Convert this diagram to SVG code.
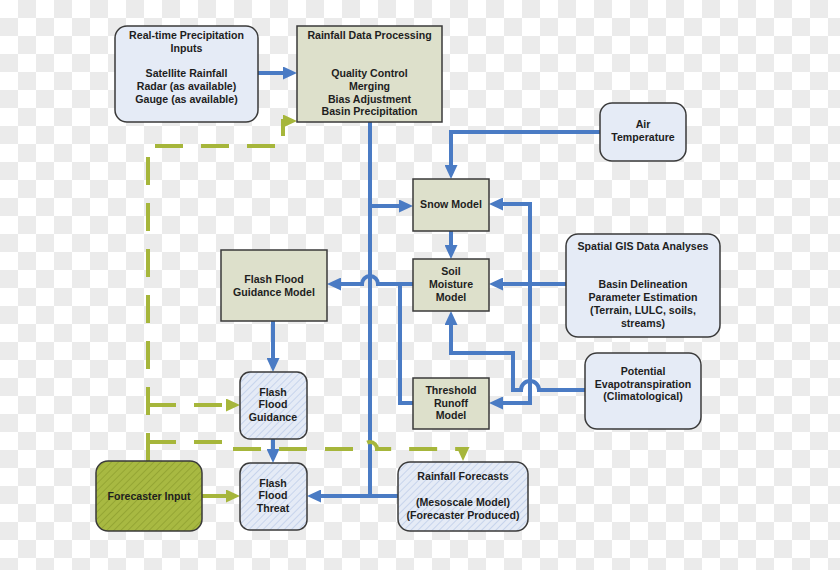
<svg xmlns="http://www.w3.org/2000/svg" width="840" height="570" viewBox="0 0 840 570">
<defs>
<pattern id="bg" width="36" height="36" patternUnits="userSpaceOnUse">
<rect width="36" height="36" fill="#ffffff"/>
<rect x="18" y="0" width="18" height="18" fill="#ebebeb"/>
<rect x="0" y="18" width="18" height="18" fill="#ebebeb"/>
</pattern>
<pattern id="hb" width="5" height="5" patternUnits="userSpaceOnUse" patternTransform="rotate(45)">
<rect width="5" height="5" fill="#e5ebf6"/>
<line x1="0" y1="0" x2="0" y2="5" stroke="#b3c5e6" stroke-width="1.2"/>
</pattern>
<pattern id="hg" width="5" height="5" patternUnits="userSpaceOnUse" patternTransform="rotate(45)">
<rect width="5" height="5" fill="#a8b942"/>
<line x1="0" y1="0" x2="0" y2="5" stroke="#8c9d2d" stroke-width="1.4"/>
</pattern>
<marker id="ab" viewBox="0 0 14 13" refX="4" refY="6.5" markerWidth="14" markerHeight="13" markerUnits="userSpaceOnUse" orient="auto">
<path d="M0,0 L14,6.5 L0,13 z" fill="#4a7bc4"/>
</marker>
<marker id="ag" viewBox="0 0 14 13" refX="4" refY="6.5" markerWidth="14" markerHeight="13" markerUnits="userSpaceOnUse" orient="auto">
<path d="M0,0 L14,6.5 L0,13 z" fill="#a6b63b"/>
</marker>
<style>
.t{font-family:"Liberation Sans",Arial,sans-serif;font-weight:bold;font-size:10.6px;fill:#1e1e1e;text-anchor:middle}
.lb{fill:#e5ebf6;stroke:#3a3a3a;stroke-width:1.5}
.gr{fill:#dde0cb;stroke:#3a3a3a;stroke-width:1.5}
.hb{fill:url(#hb);stroke:#3a3a3a;stroke-width:1.5}
.hg{fill:url(#hg);stroke:#3a3a3a;stroke-width:1.5}
.b{fill:none;stroke:#4a7bc4;stroke-width:4}
.ba{fill:none;stroke:#4a7bc4;stroke-width:4;marker-end:url(#ab)}
.g{fill:none;stroke:#a6b63b;stroke-width:4}
.ga{fill:none;stroke:#a6b63b;stroke-width:4;marker-end:url(#ag)}
.d{stroke-dasharray:28 18}
</style>
</defs>
<rect width="840" height="570" fill="url(#bg)"/>
<g id="connectors">
<path class="ba" d="M258,73 L287,73"/>
<path class="b" d="M370,122 L370,496"/>
<path class="ba" d="M370,206 L403,206"/>
<path class="ba" d="M398,496 L317,496"/>
<path class="ba" d="M600,132 L451,132 L451,169"/>
<path class="ba" d="M451,231 L451,249"/>
<path class="ba" d="M413,284 L378,284 A8,8 0 0 0 362,284 L337,284"/>
<path class="b" d="M413,403 L400,403 L400,284"/>
<path class="ba" d="M566,284 L499,284"/>
<path class="ba" d="M530,284 L530,204 L499,204"/>
<path class="ba" d="M530,284 L530,403 L499,403"/>
<path class="ba" d="M585,390 L539,390 A9,9 0 0 0 521,390 L513,390 L513,353 L451,353 L451,321"/>
<path class="ba" d="M273,321 L273,362"/>
<path class="ba" d="M273,439 L273,453"/>
<path class="ga" d="M202,496 L230,496"/>
<path class="ga d" d="M148,461 L148,146 L283,146 L283,121 L287,121"/>
<path class="ga d" d="M148,405 L230,405"/>
<path class="ga d" d="M148,442 L227,442 L227,449 L363,449 A7,7 0 0 1 377,449 L463,449 L463,451"/>
</g>
<g id="realtime">
<rect class="lb" x="115" y="26" width="143" height="96" rx="12"/>
<text class="t" x="186.5" y="39">Real-time Precipitation</text>
<text class="t" x="186.5" y="51.5">Inputs</text>
<text class="t" x="186.5" y="77">Satellite Rainfall</text>
<text class="t" x="186.5" y="89.5">Radar (as available)</text>
<text class="t" x="186.5" y="102.5">Gauge (as available)</text>
</g>
<g id="rdp">
<rect class="gr" x="297" y="26" width="145" height="96"/>
<text class="t" x="369.5" y="39">Rainfall Data Processing</text>
<text class="t" x="369.5" y="77">Quality Control</text>
<text class="t" x="369.5" y="89.5">Merging</text>
<text class="t" x="369.5" y="102.5">Bias Adjustment</text>
<text class="t" x="369.5" y="115">Basin Precipitation</text>
</g>
<g id="air">
<rect class="lb" x="600" y="103" width="86" height="58" rx="12"/>
<text class="t" x="643" y="127.5">Air</text>
<text class="t" x="643" y="140.5">Temperature</text>
</g>
<g id="snow">
<rect class="gr" x="413" y="179" width="76" height="52"/>
<text class="t" x="451" y="207.5">Snow Model</text>
</g>
<g id="soil">
<rect class="gr" x="413" y="259" width="76" height="52"/>
<text class="t" x="451" y="275">Soil</text>
<text class="t" x="451" y="288">Moisture</text>
<text class="t" x="451" y="301">Model</text>
</g>
<g id="ffgm">
<rect class="gr" x="221" y="250" width="106" height="71"/>
<text class="t" x="274" y="282.5">Flash Flood</text>
<text class="t" x="274" y="295.5">Guidance Model</text>
</g>
<g id="gis">
<rect class="lb" x="566" y="234" width="154" height="103" rx="12"/>
<text class="t" x="643" y="250">Spatial GIS Data Analyses</text>
<text class="t" x="643" y="288">Basin Delineation</text>
<text class="t" x="643" y="301">Parameter Estimation</text>
<text class="t" x="643" y="314">(Terrain, LULC, soils,</text>
<text class="t" x="643" y="327">streams)</text>
</g>
<g id="pet">
<rect class="lb" x="585" y="353" width="116" height="76" rx="12"/>
<text class="t" x="643" y="375">Potential</text>
<text class="t" x="643" y="388">Evapotranspiration</text>
<text class="t" x="643" y="400">(Climatological)</text>
</g>
<g id="threshold">
<rect class="gr" x="413" y="378" width="76" height="51"/>
<text class="t" x="451" y="394">Threshold</text>
<text class="t" x="451" y="407">Runoff</text>
<text class="t" x="451" y="419">Model</text>
</g>
<g id="ffg">
<rect class="hb" x="240" y="372" width="67" height="67" rx="10"/>
<text class="t" x="273" y="395.5">Flash</text>
<text class="t" x="273" y="408">Flood</text>
<text class="t" x="273" y="420.5">Guidance</text>
</g>
<g id="fft">
<rect class="hb" x="240" y="463" width="67" height="67" rx="10"/>
<text class="t" x="273" y="486.5">Flash</text>
<text class="t" x="273" y="499">Flood</text>
<text class="t" x="273" y="511.5">Threat</text>
</g>
<g id="forecaster">
<rect class="hg" x="96" y="461" width="106" height="70" rx="12"/>
<text class="t" x="149" y="499.5">Forecaster Input</text>
</g>
<g id="rf">
<rect class="hb" x="398" y="462" width="130" height="69" rx="12"/>
<text class="t" x="463" y="480">Rainfall Forecasts</text>
<text class="t" x="463" y="506">(Mesoscale Model)</text>
<text class="t" x="463" y="518.5">(Forecaster Produced)</text>
</g>
</svg>
